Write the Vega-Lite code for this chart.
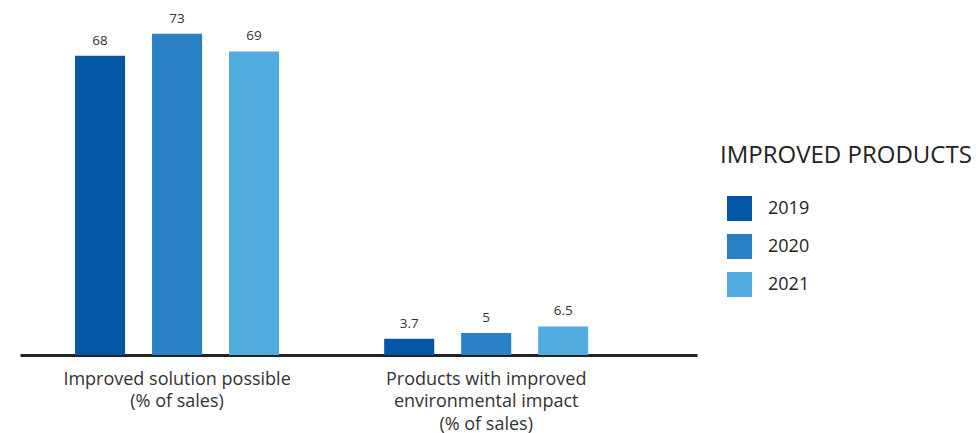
{
  "$schema": "https://vega.github.io/schema/vega-lite/v6.json",
  "width": 677,
  "height": 352,
  "autosize": "none",
  "padding": {"left": 20, "top": 3, "right": 279, "bottom": 78},
  "config": {"view": {"stroke": null}, "font": "Open Sans"},
  "data": {
    "values": [
      {"group": "Improved solution possible|(% of sales)", "year": "2019", "value": 68},
      {"group": "Improved solution possible|(% of sales)", "year": "2020", "value": 73},
      {"group": "Improved solution possible|(% of sales)", "year": "2021", "value": 69},
      {"group": "Products with improved|environmental impact|(% of sales)", "year": "2019", "value": 3.7},
      {"group": "Products with improved|environmental impact|(% of sales)", "year": "2020", "value": 5},
      {"group": "Products with improved|environmental impact|(% of sales)", "year": "2021", "value": 6.5}
    ]
  },
  "encoding": {
    "x": {
      "field": "group",
      "type": "nominal",
      "sort": null,
      "scale": {"paddingInner": 0.34, "paddingOuter": 0.265, "align": 0.336},
      "axis": {
        "title": null,
        "labelAngle": 0,
        "labelExpr": "split(datum.label, '|')",
        "labelFontSize": 18,
        "labelColor": "#333333",
        "labelLineHeight": 22.5,
        "labelBaseline": "top",
        "labelPadding": 15,
        "ticks": false,
        "domainColor": "#222222",
        "domainWidth": 3,
        "labelLimit": 400
      }
    },
    "xOffset": {"field": "year", "type": "nominal", "scale": {"paddingInner": 0.35, "paddingOuter": 0}},
    "y": {"field": "value", "type": "quantitative", "scale": {"domain": [0, 80]}, "axis": null}
  },
  "layer": [
    {
      "mark": {"type": "bar"},
      "encoding": {
        "color": {
          "field": "year",
          "type": "nominal",
          "scale": {"domain": ["2019", "2020", "2021"], "range": ["#0356A6", "#2A80C4", "#52ACE0"]},
          "legend": {
            "title": "IMPROVED PRODUCTS",
            "orient": "none",
            "legendX": 700,
            "legendY": 141,
            "titleFontSize": 24,
            "titleFontWeight": "normal",
            "titleColor": "#222222",
            "titlePadding": 28,
            "titleLimit": 400,
            "symbolType": "square",
            "symbolSize": 625,
            "symbolStrokeWidth": 0,
            "symbolOffset": 7,
            "labelFontSize": 18,
            "labelColor": "#222222",
            "labelOffset": 16,
            "rowPadding": 13,
            "padding": 0
          }
        }
      }
    },
    {
      "mark": {"type": "text", "dy": -8, "baseline": "bottom", "fontSize": 13.5, "color": "#333333"},
      "encoding": {"text": {"field": "value", "type": "quantitative"}}
    }
  ]
}
